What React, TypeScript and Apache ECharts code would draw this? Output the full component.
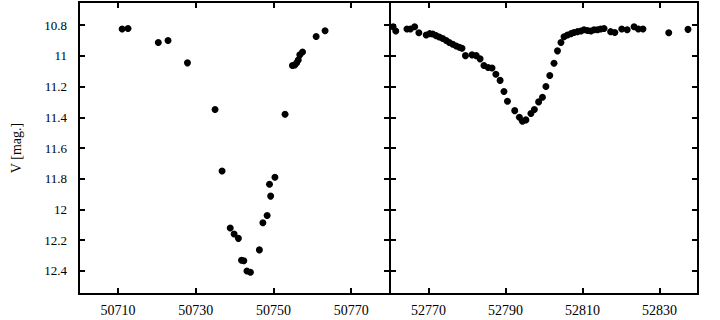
import React, { useEffect, useRef } from "react";
import * as echarts from "echarts";

// Left panel: JD - 2400000 and V magnitude
const leftJD = [
  50711.1, 50712.6, 50720.4, 50722.9, 50727.9, 50735.0, 50736.8, 50738.9, 50739.9, 50741.0,
  50741.8, 50742.4, 50743.2, 50744.1, 50746.4, 50747.3, 50748.4, 50749.0, 50749.3, 50750.4,
  50753.0, 50754.9, 50755.5, 50756.0, 50756.4, 50756.8, 50757.5, 50761.0, 50763.3,
];
const leftMag = [
  10.826, 10.822, 10.913, 10.9, 11.046, 11.35, 11.75, 12.12, 12.16, 12.188,
  12.33, 12.334, 12.4, 12.408, 12.263, 12.086, 12.039, 11.836, 11.913, 11.79,
  11.38, 11.063, 11.06, 11.045, 11.027, 10.994, 10.975, 10.874, 10.837,
];
// Right panel
const rightJD = [
  52760.8, 52761.5, 52764.4, 52765.3, 52766.4, 52767.5, 52769.4, 52770.3, 52771.1, 52772.0,
  52772.8, 52773.7, 52774.6, 52775.4, 52776.3, 52777.2, 52778.0, 52778.7, 52779.6, 52781.3,
  52782.4, 52783.4, 52784.4, 52785.5, 52786.5, 52787.5, 52788.6, 52789.6, 52790.5, 52792.4,
  52793.6, 52794.4, 52795.3, 52796.6, 52797.5, 52798.6, 52799.6, 52800.5, 52801.5, 52802.6,
  52803.5, 52804.4, 52805.2, 52806.1, 52807.0, 52807.8, 52808.7, 52809.6, 52810.4, 52811.3,
  52812.2, 52813.0, 52813.9, 52814.7, 52815.6, 52817.3, 52818.4, 52820.2, 52821.6, 52823.4,
  52824.5, 52825.7, 52832.4, 52837.4,
];
const rightMag = [
  10.811, 10.839, 10.826, 10.826, 10.811, 10.85, 10.865, 10.856, 10.858, 10.869,
  10.878, 10.887, 10.9, 10.913, 10.925, 10.936, 10.945, 10.951, 10.999, 10.994,
  10.999, 11.02, 11.063, 11.076, 11.08, 11.12, 11.16, 11.232, 11.296, 11.357,
  11.4, 11.426, 11.417, 11.376, 11.35, 11.3, 11.27, 11.2, 11.128, 11.048,
  10.968, 10.913, 10.876, 10.865, 10.856, 10.848, 10.843, 10.839, 10.83, 10.835,
  10.839, 10.83, 10.83, 10.826, 10.822, 10.843, 10.848, 10.826, 10.83, 10.811,
  10.826, 10.826, 10.85, 10.828,
];

const leftXRange = [50700, 50780];
const rightXRange = [52760, 52840];
const yRange = [10.65, 12.55];
const leftXTicks = [50710, 50730, 50750, 50770];
const rightXTicks = [52770, 52790, 52810, 52830];
const yTicks = [10.8, 11, 11.2, 11.4, 11.6, 11.8, 12, 12.2, 12.4];
const yName = "V [mag.]";

const FONT = "Liberation Serif";

export default function App() {
  const ref = useRef<HTMLDivElement>(null);
  useEffect(() => {
    if (!ref.current) return;
    const chart = echarts.init(ref.current, null, { renderer: "svg" });
    const line = { show: true, onZero: false, lineStyle: { color: "#000", width: 2 } };
    const tick = (vals: number[]) => ({ show: true, inside: true, length: 6, customValues: vals, lineStyle: { color: "#000", width: 2 } });
    const hiddenAxis = { axisLabel: { show: false }, splitLine: { show: false } };

    // Tick-only axes on every edge of both panels
    const tickX = (gi: number, range: number[], vals: number[], pos: string) => ({
      type: "value", gridIndex: gi, position: pos, min: range[0], max: range[1],
      axisLine: line, axisTick: tick(vals), ...hiddenAxis,
    });
    const tickY = (gi: number, pos: string) => ({
      type: "value", gridIndex: gi, position: pos, min: yRange[0], max: yRange[1], inverse: true,
      axisLine: line, axisTick: tick(yTicks), ...hiddenAxis,
    });
    // Label-only axes
    const labelX = (gi: number, range: number[], vals: number[]) => ({
      type: "value", gridIndex: gi, position: "bottom", min: range[0], max: range[1],
      axisLine: { show: false }, axisTick: { show: false }, splitLine: { show: false },
      axisLabel: {
        customValues: vals, formatter: (v: number) => String(Math.round(v)),
        fontFamily: FONT, fontSize: 14, color: "#000", margin: 9,
      },
    });
    const labelY = {
      type: "value", gridIndex: 0, position: "left", min: yRange[0], max: yRange[1], inverse: true,
      axisLine: { show: false }, axisTick: { show: false }, splitLine: { show: false },
      axisLabel: {
        customValues: yTicks, formatter: (v: number) => String(Math.round(v * 10) / 10),
        fontFamily: FONT, fontSize: 13, color: "#000", margin: 12,
      },
      name: yName, nameLocation: "middle", nameGap: 56, nameRotate: 90,
      nameTextStyle: { fontFamily: FONT, fontSize: 14, color: "#000" },
    };

    const dot = { color: "#000", opacity: 1 };
    const leftData = leftJD.map((x, i) => [x, leftMag[i]]);
    const rightData = rightJD.map((x, i) => [x, rightMag[i]]);

    chart.setOption({
      animation: false,
      backgroundColor: "#fff",
      textStyle: { fontFamily: FONT, color: "#000" },
      grid: [
        { left: 79, top: 2, width: 311, bottom: 26, show: false },
        { left: 390, top: 2, right: 22, bottom: 26, show: false },
      ],
      xAxis: [
        labelX(0, leftXRange, leftXTicks),
        labelX(1, rightXRange, rightXTicks),
        tickX(0, leftXRange, leftXTicks, "bottom"),
        tickX(0, leftXRange, leftXTicks, "top"),
        tickX(1, rightXRange, rightXTicks, "bottom"),
        tickX(1, rightXRange, rightXTicks, "top"),
      ],
      yAxis: [
        labelY,
        { type: "value", gridIndex: 1, position: "left", min: yRange[0], max: yRange[1], inverse: true, show: false },
        tickY(0, "left"),
        tickY(0, "right"),
        tickY(1, "left"),
        tickY(1, "right"),
      ],
      series: [
        { type: "scatter", xAxisIndex: 0, yAxisIndex: 0, data: leftData, symbol: "circle", symbolSize: 7, itemStyle: dot },
        { type: "scatter", xAxisIndex: 1, yAxisIndex: 1, data: rightData, symbol: "circle", symbolSize: 7, itemStyle: dot },
      ],
    });
    return () => chart.dispose();
  }, []);
  return <div ref={ref} style={{ width: 720, height: 320, position: "absolute", left: 0, top: 0 }} />;
}
